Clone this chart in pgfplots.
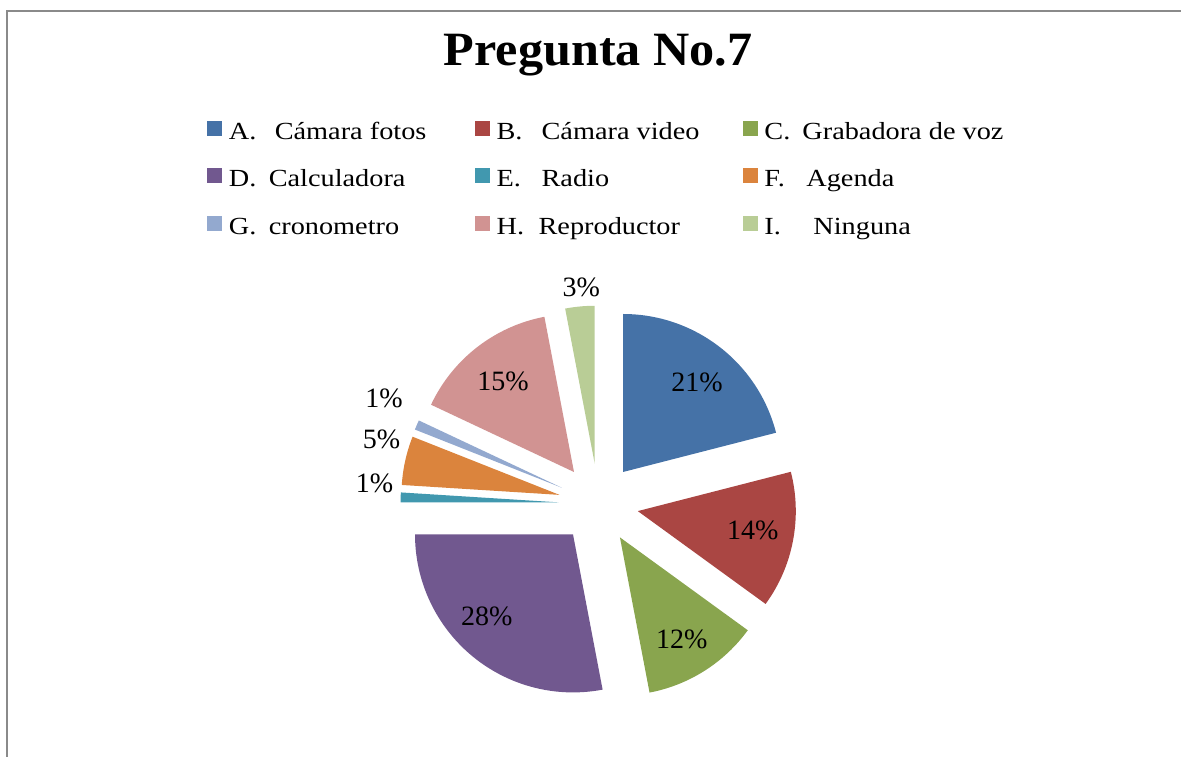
\documentclass[border=0pt]{standalone}
\usepackage{fontspec}
\setmainfont[FakeStretch=1.15]{Liberation Serif}
\newfontfamily\titlefont[FakeStretch=1.05]{Liberation Serif}
\newfontfamily\pctfont{Liberation Serif}
\usepackage{pgfplots}
\usepackage{pgfplotstable}
\pgfplotsset{compat=1.18}
\definecolor{cA}{HTML}{4572A7}
\definecolor{cB}{HTML}{AA4643}
\definecolor{cC}{HTML}{89A54E}
\definecolor{cD}{HTML}{71588F}
\definecolor{cE}{HTML}{4198AF}
\definecolor{cF}{HTML}{DB843D}
\definecolor{cG}{HTML}{93A9CF}
\definecolor{cH}{HTML}{D19392}
\definecolor{cI}{HTML}{B9CD96}
\definecolor{framegray}{HTML}{8A8A8A}
\newcommand\pctstyle{\pctfont\fontsize{14pt}{16pt}\selectfont}
% value = percentage, lr = label radius factor, la = label angle offset
\pgfplotstableread{
value col lr    la
21    cA  0.734 -1.8
14    cB  0.738  1.4
12    cC  0.753 -1.1
28    cD  0.753 -6.8
1     cE  1.171 -4.1
5     cF  1.179 -4.6
1     cG  1.259 -3.2
15    cH  0.730  0.2
3     cI  1.117 -1.0
}\piedata
\begin{document}
\begin{tikzpicture}
\begin{axis}[
  x=0.5pt, y=0.5pt,
  xmin=0, xmax=1181, ymin=0, ymax=756,
  hide axis,
  clip=true,
  title={Pregunta No.7},
  title style={at={(axis description cs:0.5064,0.898)}, anchor=base, inner sep=0pt,
    font=\titlefont\bfseries\fontsize{23.9pt}{28pt}\selectfont},
  legend columns=3,
  legend style={draw=none, fill=none, at={(axis description cs:0.1753,0.8400)},
    anchor=north west, inner sep=0pt, outer sep=0pt, row sep=11.7pt,
    nodes={inner sep=0pt, text height=8.5pt, text depth=3pt},
    font=\fontsize{12.3pt}{14pt}\selectfont,
    /tikz/every odd column/.style={column sep=3.5pt},
    /tikz/every even column/.style={column sep=0pt}},
  legend cell align=left,
]
\addlegendimage{legend image code/.code={\fill[cA] (0pt,-0.9pt) rectangle (7pt,6.1pt);}}
\addlegendentry{\makebox[123pt][l]{\rlap{A.}\hspace*{23pt}Cámara fotos}}
\addlegendimage{legend image code/.code={\fill[cB] (0pt,-0.9pt) rectangle (7pt,6.1pt);}}
\addlegendentry{\makebox[123pt][l]{\rlap{B.}\hspace*{22.5pt}Cámara video}}
\addlegendimage{legend image code/.code={\fill[cC] (0pt,-0.9pt) rectangle (7pt,6.1pt);}}
\addlegendentry{\makebox[123pt][l]{\rlap{C.}\hspace*{19pt}Grabadora de voz}}
\addlegendimage{legend image code/.code={\fill[cD] (0pt,-0.9pt) rectangle (7pt,6.1pt);}}
\addlegendentry{\makebox[123pt][l]{\rlap{D.}\hspace*{20pt}Calculadora}}
\addlegendimage{legend image code/.code={\fill[cE] (0pt,-0.9pt) rectangle (7pt,6.1pt);}}
\addlegendentry{\makebox[123pt][l]{\rlap{E.}\hspace*{22.5pt}Radio}}
\addlegendimage{legend image code/.code={\fill[cF] (0pt,-0.9pt) rectangle (7pt,6.1pt);}}
\addlegendentry{\makebox[123pt][l]{\rlap{F.}\hspace*{21pt}Agenda}}
\addlegendimage{legend image code/.code={\fill[cG] (0pt,-0.9pt) rectangle (7pt,6.1pt);}}
\addlegendentry{\makebox[123pt][l]{\rlap{G.}\hspace*{20pt}cronometro}}
\addlegendimage{legend image code/.code={\fill[cH] (0pt,-0.9pt) rectangle (7pt,6.1pt);}}
\addlegendentry{\makebox[123pt][l]{\rlap{H.}\hspace*{21pt}Reproductor}}
\addlegendimage{legend image code/.code={\fill[cI] (0pt,-0.9pt) rectangle (7pt,6.1pt);}}
\addlegendentry{\makebox[123pt][l]{\rlap{I.}\hspace*{24.5pt}Ninguna}}

% chart frame
\draw[framegray, line width=1pt] (axis cs:6.5,-20) |- (axis cs:1200,744.5);

% exploded pie, drawn from the table
\def\cx{598.5}\def\cy{252.4}\def\dd{40}\def\rpx{158}
\def\astart{90}
\pgfplotsforeachungrouped \i in {0,...,8}{%
  \pgfplotstablegetelem{\i}{value}\of\piedata \let\v\pgfplotsretval
  \pgfplotstablegetelem{\i}{col}\of\piedata \let\c\pgfplotsretval
  \pgfplotstablegetelem{\i}{lr}\of\piedata \let\lr\pgfplotsretval
  \pgfplotstablegetelem{\i}{la}\of\piedata \let\la\pgfplotsretval
  \pgfmathsetmacro\aend{\astart-3.6*\v}%
  \pgfmathsetmacro\amid{(\astart+\aend)/2}%
  \pgfmathsetmacro\vx{\cx+\dd*cos(\amid)}%
  \pgfmathsetmacro\vy{\cy+\dd*sin(\amid)}%
  \pgfmathsetmacro\lx{\vx+\lr*\rpx*cos(\amid+\la)}%
  \pgfmathsetmacro\ly{\vy+\lr*\rpx*sin(\amid+\la)}%
  \edef\temp{\noexpand\fill[\c] (axis cs:\vx,\vy) -- ++(\astart:79pt)
     arc[start angle=\astart, end angle=\aend, radius=79pt] -- cycle;
     \noexpand\node[font=\noexpand\pctstyle, inner sep=0pt] at (axis cs:\lx,\ly) {\v\noexpand\%};}%
  \temp
  \let\astart\aend
}
\end{axis}
\pgfresetboundingbox
\path[use as bounding box] (0,0) rectangle (590.5pt,378pt);
\end{tikzpicture}
\end{document}
